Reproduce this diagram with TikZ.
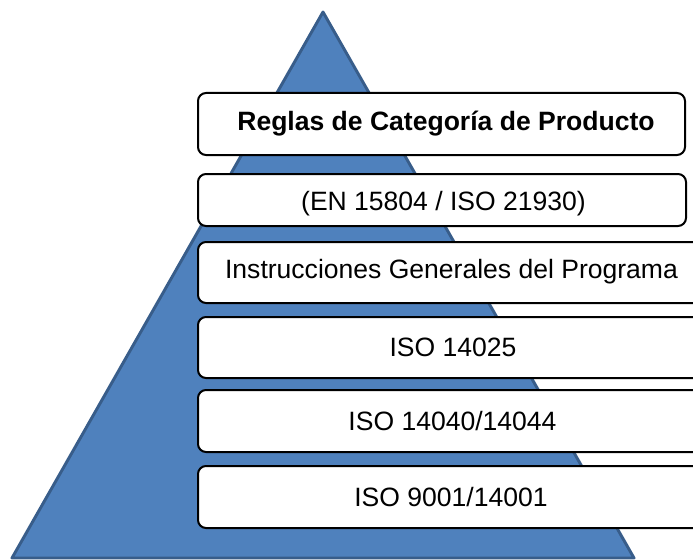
\documentclass[tikz,border=0pt]{standalone}
\usepackage{fontspec}
\setmainfont{Liberation Sans}
\definecolor{pyrfill}{RGB}{79,129,189}
\definecolor{pyrline}{RGB}{56,93,138}
\tikzset{
  layerbox/.style={draw=black, line width=1.5pt, fill=white, rounded corners=6pt},
  layertext/.style={font=\fontsize{19.9}{24}\selectfont, text=black, inner sep=0pt}
}
\begin{document}
\begin{tikzpicture}[x=0.75pt,y=-0.75pt]
\useasboundingbox (0,0) rectangle (693,560);
% pyramid
\draw[fill=pyrfill, draw=pyrline, line width=2.2pt, line join=round] (323,12) -- (634,558) -- (12,558) -- cycle;
% layer boxes
\draw[layerbox] (198,93) rectangle (685,155);
\draw[layerbox] (198,174) rectangle (686,226);
\draw[layerbox] (198,242) rectangle (708,303);
\draw[layerbox] (198,317) rectangle (708,378);
\draw[layerbox] (198,390) rectangle (708,452);
\draw[layerbox] (198,466) rectangle (708,528);
% texts
\node[layertext, font=\fontsize{19.9}{24}\selectfont\bfseries] (t1) at (446,124) {Reglas de Categoría de Producto};
\node[layertext] (t2) at (443.5,204) {(EN 15804 / ISO 21930)};
\node[layertext] (t3) at (451.5,272) {Instrucciones Generales del Programa};
\node[layertext] (t4) at (453,347.5) {ISO 14025};
\node[layertext] (t5) at (452.5,421) {ISO 14040/14044};
\node[layertext] (t6) at (451,497) {ISO 9001/14001};
\end{tikzpicture}
\end{document}
